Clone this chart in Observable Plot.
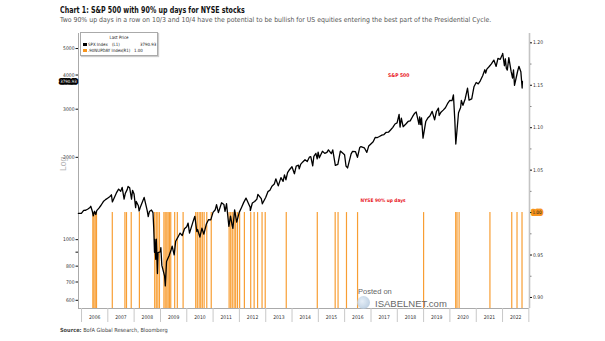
<!DOCTYPE html>
<html><head><meta charset="utf-8">
<script src="https://cdn.jsdelivr.net/npm/d3@7"></script>
<script src="https://cdn.jsdelivr.net/npm/@observablehq/plot@0.6"></script>
<style>
body{margin:0;background:#fff;}
#wrap{position:relative;width:605px;height:341px;overflow:hidden;font-family:"Liberation Sans Narrow","DejaVu Sans Condensed",Arial,sans-serif;}
#wrap svg{position:absolute;left:0;top:0;}
.abs{position:absolute;white-space:nowrap;}
#title{left:60px;top:5px;font-size:8.2px;font-weight:bold;color:#111;transform:scaleX(0.86);transform-origin:0 0;}
#sub{left:60px;top:16px;font-size:6.9px;color:#555;}
#source{left:60px;top:327px;font-size:5.6px;color:#444;}
#legend{left:80px;top:32px;width:76px;height:22px;border:1px solid #aaa;background:#fff;box-shadow:1px 1px 1px #ccc;font-size:4.4px;color:#222;}
#legend .abs{line-height:1;}
.sw{width:3.5px;height:3.5px;}
#wm1{left:358px;top:287px;font-family:Arial,"Liberation Sans",sans-serif;font-size:7.5px;color:#666;}
#wm2{left:375px;top:298px;font-family:Arial,"Liberation Sans",sans-serif;font-size:9.5px;color:#666;}
#logo{left:357px;top:296px;width:13px;height:13px;border-radius:50%;background:radial-gradient(circle at 40% 40%,#dfeaf5,#9db8d3);opacity:.8;}
</style></head>
<body><div id="wrap">
<div id="title" class="abs">Chart 1: S&amp;P 500 with 90% up days for NYSE stocks</div>
<div id="sub" class="abs">Two 90% up days in a row on 10/3 and 10/4 have the potential to be bullish for US equities entering the best part of the Presidential Cycle.</div>
<div id="source" class="abs"><b>Source:</b> BofA Global Research, Bloomberg</div>
</div>
<script>
// ---- data ----
const spxDates = ["2005-11-18","2005-12-30","2006-01-31","2006-02-28","2006-03-31","2006-04-28","2006-05-09","2006-05-31","2006-06-13","2006-06-30","2006-07-18","2006-07-31","2006-08-31","2006-09-29","2006-10-31","2006-11-30","2006-12-29",
"2007-01-31","2007-02-20","2007-03-05","2007-03-30","2007-04-30","2007-05-31","2007-06-29","2007-07-19","2007-08-15","2007-08-31","2007-09-28","2007-10-09","2007-10-31","2007-11-26","2007-12-10","2007-12-31",
"2008-01-22","2008-01-31","2008-02-29","2008-03-10","2008-03-31","2008-04-30","2008-05-19","2008-06-30","2008-07-15","2008-07-31","2008-08-29","2008-09-19","2008-09-29","2008-10-10","2008-10-13","2008-10-27","2008-11-04","2008-11-20","2008-11-28","2008-12-31",
"2009-01-06","2009-01-20","2009-02-27","2009-03-09","2009-03-26","2009-04-30","2009-05-29","2009-06-12","2009-07-10","2009-07-31","2009-08-31","2009-09-30","2009-10-30","2009-11-30","2009-12-31",
"2010-01-19","2010-02-08","2010-03-31","2010-04-23","2010-05-20","2010-05-31","2010-07-02","2010-07-30","2010-08-26","2010-09-30","2010-10-29","2010-11-30","2010-12-31",
"2011-01-31","2011-02-18","2011-03-16","2011-04-29","2011-05-31","2011-06-16","2011-07-07","2011-08-08","2011-08-31","2011-09-22","2011-10-03","2011-10-27","2011-11-25","2011-12-30",
"2012-01-31","2012-02-29","2012-04-02","2012-05-31","2012-06-01","2012-06-29","2012-07-31","2012-08-31","2012-09-14","2012-10-31","2012-11-15","2012-12-31",
"2013-01-31","2013-02-28","2013-03-28","2013-04-30","2013-05-21","2013-06-24","2013-07-31","2013-08-30","2013-09-18","2013-10-08","2013-10-31","2013-11-29","2013-12-31",
"2014-02-03","2014-02-28","2014-03-31","2014-04-11","2014-04-30","2014-05-30","2014-06-30","2014-07-31","2014-08-29","2014-09-18","2014-10-15","2014-10-31","2014-11-28","2014-12-16","2014-12-29",
"2015-01-15","2015-02-27","2015-03-31","2015-04-30","2015-05-21","2015-06-30","2015-07-20","2015-08-25","2015-09-29","2015-10-30","2015-11-03","2015-12-31",
"2016-01-20","2016-02-11","2016-03-31","2016-04-20","2016-05-31","2016-06-27","2016-07-29","2016-08-15","2016-09-30","2016-11-04","2016-11-30","2016-12-30",
"2017-01-31","2017-02-28","2017-03-31","2017-04-28","2017-05-31","2017-06-30","2017-07-31","2017-08-31","2017-09-29","2017-10-31","2017-11-30","2017-12-29",
"2018-01-26","2018-02-08","2018-02-26","2018-03-23","2018-04-30","2018-05-31","2018-06-29","2018-07-31","2018-08-31","2018-09-20","2018-10-29","2018-11-07","2018-11-23","2018-12-03","2018-12-24",
"2019-01-31","2019-02-28","2019-03-29","2019-04-30","2019-06-03","2019-06-28","2019-07-26","2019-08-05","2019-08-30","2019-09-30","2019-10-31","2019-11-29","2019-12-31",
"2020-01-31","2020-02-19","2020-03-09","2020-03-23","2020-04-30","2020-05-29","2020-06-08","2020-06-30","2020-07-31","2020-09-02","2020-09-23","2020-10-30","2020-11-30","2020-12-31",
"2021-01-29","2021-02-26","2021-03-31","2021-04-30","2021-05-12","2021-05-28","2021-06-30","2021-07-30","2021-09-02","2021-10-04","2021-10-29","2021-11-30","2021-12-31",
"2022-01-03","2022-01-27","2022-02-09","2022-02-23","2022-03-08","2022-03-29","2022-04-29","2022-05-20","2022-06-02","2022-06-16","2022-07-29","2022-08-16","2022-09-12","2022-09-30","2022-10-04"];
const spxValues = [1248,1248,1280,1281,1295,1311,1325,1270,1223,1270,1236,1277,1304,1336,1378,1401,1418,
1438,1459,1374,1421,1482,1531,1503,1553,1406,1474,1527,1565,1549,1407,1515,1468,
1310,1379,1331,1273,1323,1386,1427,1280,1214,1267,1283,1255,1106,899,1003,848,1005,752,896,903,
935,805,735,677,832,873,919,946,880,987,1021,1057,1036,1096,1115,
1150,1056,1169,1217,1071,1089,1022,1102,1047,1141,1183,1181,1258,
1286,1343,1256,1364,1345,1268,1353,1119,1219,1130,1099,1285,1159,1258,
1312,1366,1419,1310,1278,1362,1379,1407,1465,1412,1353,1426,
1498,1515,1569,1598,1669,1573,1686,1633,1725,1656,1757,1806,1848,
1742,1859,1872,1815,1884,1924,1960,1931,2003,2011,1862,2018,2068,1973,2091,
1992,2105,2068,2086,2131,2063,2128,1868,1884,2079,2109,2044,
1859,1829,2060,2102,2097,2001,2174,2190,2168,2085,2199,2239,
2279,2364,2363,2384,2412,2423,2470,2472,2519,2575,2648,2674,
2873,2581,2780,2588,2648,2705,2718,2816,2902,2931,2641,2814,2633,2790,2351,
2704,2784,2834,2946,2744,2942,3026,2845,2926,2977,3038,3141,3231,
3226,3386,2747,2237,2912,3044,3232,3100,3271,3580,3237,3270,3622,3756,
3714,3811,3973,4181,4063,4204,4298,4395,4537,4300,4605,4567,4766,
4797,4326,4587,4226,4171,4632,4132,3901,4177,3667,4130,4305,4110,3586,3791];
// 90% up days on NYSE (decimal years), value 1.00
const upDayYears = [2006.43,2006.47,2006.52,2006.57,2007.17,2007.65,2007.71,2007.89,2008.20,
2008.78,2008.84,2008.90,2008.96,2009.13,2009.18,2009.24,2009.29,2009.34,2009.39,2009.54,2009.64,2009.86,
2010.34,2010.40,2010.47,2010.53,2010.59,2010.66,2010.76,2010.93,
2011.61,2011.67,2011.73,2011.80,2011.86,2011.93,2012.01,2012.19,2012.43,2012.56,2012.69,2012.86,2012.98,
2013.78,2014.96,2015.64,2015.75,2016.07,2016.49,2019.00,2020.22,2020.27,2020.35,2021.52,2022.35,2022.55,2022.74];
const upDayValue = 1.00;
const lastSpx = 3790.93;
const leftTicks = [600,700,800,900,1000,2000,3000,4000,5000];
const rightTicks = [0.90,0.95,1.00,1.05,1.10,1.15,1.20];
const rightMinor = [0.925,0.975,1.025,1.075,1.125,1.175];
const years = d3.range(2006, 2023);
const labelSpx = [{date:"2018-01-20", value:4000, text:"S&P 500"}];
const labelUp = [{year:2017.46, value:1.0145, text:"NYSE 90% up days"}];

// ---- helpers ----
const yr = v => { const y = Math.floor(v); const a = Date.UTC(y,0,1), b = Date.UTC(y+1,0,1); return new Date(a + (v-y)*(b-a)); };
const spx = spxDates.map((d,i) => ({date: new Date(d), value: spxValues[i]}));
const upDays = upDayYears.map(v => ({date: yr(v), value: upDayValue}));
const xDomain = [new Date("2005-11-20"), new Date("2023-01-10")];
const FONT = '"Liberation Sans Narrow","DejaVu Sans Condensed",Arial,sans-serif';
const ORANGE = "#f7941d";
const common = {width:605, height:341, marginLeft:78, marginRight:76, marginTop:33, marginBottom:33,
  style:{background:"transparent", fontFamily:FONT, fontSize:"5px", color:"#333", overflow:"visible"}};

// bars + right axis
const barPlot = Plot.plot({...common,
  x:{type:"utc", domain:xDomain, axis:null},
  y:{type:"linear", domain:[0.887,1.211]},
  marks:[
    Plot.ruleX(upDays, {x:"date", y1:0.887, y2:"value", stroke:ORANGE, strokeWidth:1.2, strokeOpacity:0.9}),
    Plot.ruleX([xDomain[1]], {stroke:"#c4c4c4", strokeWidth:1.6}),
    Plot.axisY(rightTicks, {anchor:"right", label:null, tickSize:2, tickPadding:1.5, tickFormat:d3.format(".2f"), fontSize:5, fill:"#333", stroke:"#111"}),
    Plot.axisY(rightMinor, {anchor:"right", label:null, tickSize:1.5, tickFormat:()=>"", stroke:"#888"}),
    Plot.text(labelUp, {x:d=>yr(d.year), y:"value", text:"text", fill:"#e8141b", fontWeight:"bold", fontSize:4.8}),
    Plot.text([upDayValue], {x:()=>xDomain[1], y:d=>d, dx:7.5, text:d=>d3.format(".2f")(d), fill:"#222", stroke:ORANGE, strokeWidth:4, strokeLinejoin:"round", fontSize:4.6})
  ]});

// SPX line + left axis + x axis
const linePlot = Plot.plot({...common,
  x:{type:"utc", domain:xDomain},
  y:{type:"log", domain:[560,5675]},
  marks:[
    Plot.ruleX([xDomain[0]], {stroke:"#aaa"}),
    Plot.ruleY([560], {stroke:"#aaa"}),
    Plot.axisX(years.map(y=>new Date(Date.UTC(y,0,1))).concat([new Date(Date.UTC(2023,0,1))]), {anchor:"bottom", label:null, tickSize:14, tickFormat:()=>"", stroke:"#c8c8c8"}),
    Plot.axisX(years.map(y=>new Date(Date.UTC(y,6,2))), {anchor:"bottom", label:null, tickSize:0, tickPadding:7, tickFormat:d3.utcFormat("%Y"), fontSize:5, fill:"#333"}),
    Plot.axisY(leftTicks, {anchor:"left", label:null, tickSize:2.5, tickPadding:1.5, tickFormat:d=>String(d), fontSize:5, fill:"#333", stroke:"#111"}),
    Plot.text(["Log"], {frameAnchor:"left", dx:-15, dy:0, rotate:-90, text:d=>d, fill:"#b5b5b5", fontSize:8.5, fontFamily:"Arial, sans-serif"}),
    Plot.line(spx, {x:"date", y:"value", stroke:"#000", strokeWidth:1.3}),
    Plot.text(labelSpx, {x:d=>new Date(d.date), y:"value", text:"text", fill:"#e8141b", fontWeight:"bold", fontSize:5}),
    Plot.text([lastSpx], {x:()=>xDomain[0], y:d=>d, dx:-10, text:d=>d3.format(".2f")(d), fill:"#fff", stroke:"#000", strokeWidth:3.5, strokeLinejoin:"round", fontSize:4.4})
  ]});

const wrap = document.getElementById("wrap");
wrap.appendChild(barPlot);
wrap.appendChild(linePlot);

// legend
const leg = document.createElement("div");
leg.id = "legend"; leg.className = "abs";
leg.innerHTML = `
<div class="abs" style="left:0;width:76px;text-align:center;top:3px">Last Price</div>
<div class="abs sw" style="left:2px;top:9.5px;background:#000"></div>
<div class="abs" style="left:7px;top:9.5px">SPX Index</div>
<div class="abs" style="left:31px;top:9.5px">(L1)</div>
<div class="abs" style="left:59px;top:9.5px">${d3.format(".2f")(lastSpx)}</div>
<div class="abs sw" style="left:2px;top:15.5px;background:${ORANGE}"></div>
<div class="abs" style="left:7px;top:15.5px">.90NUPDAY Index</div>
<div class="abs" style="left:41px;top:15.5px">(R1)</div>
<div class="abs" style="left:53px;top:15.5px">${d3.format(".2f")(upDayValue)}</div>`;
wrap.appendChild(leg);

// watermark
for (const [id, txt] of [["logo",""],["wm1","Posted on"],["wm2","ISABELNET.com"]]) {
  const el = document.createElement("div"); el.id = id; el.className = "abs"; el.textContent = txt; wrap.appendChild(el);
}
</script>
</body></html>
